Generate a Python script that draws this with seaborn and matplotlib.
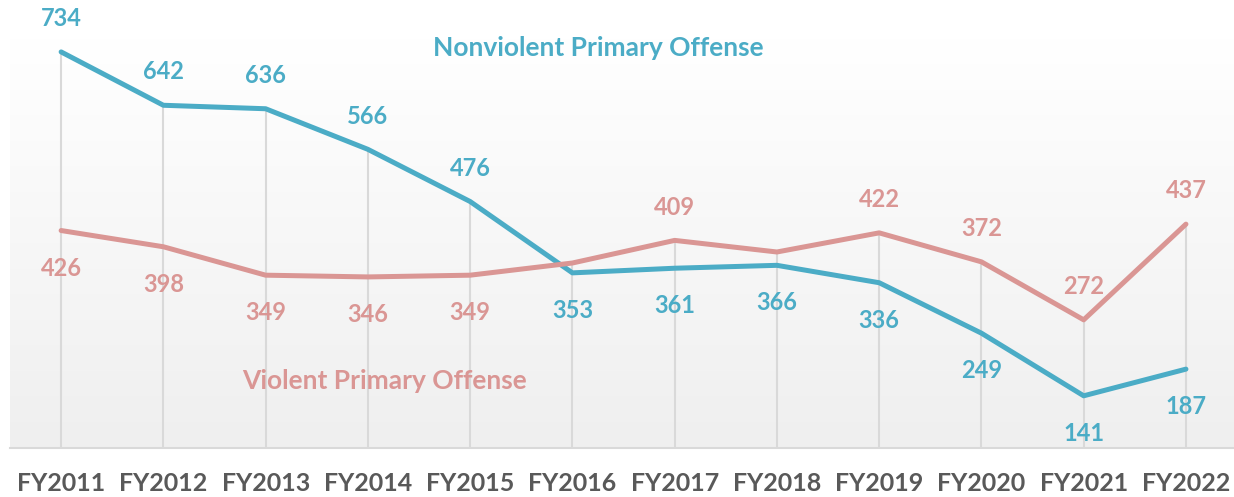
import numpy as np
import pandas as pd
import matplotlib
matplotlib.use("Agg")
import matplotlib.pyplot as plt
import seaborn as sns

# data
years = ["FY2011", "FY2012", "FY2013", "FY2014", "FY2015", "FY2016",
         "FY2017", "FY2018", "FY2019", "FY2020", "FY2021", "FY2022"]
nonviolent = [734, 642, 636, 566, 476, 353, 361, 366, 336, 249, 141, 187]
violent = [426, 398, 349, 346, 349, 370, 409, 389, 422, 372, 272, 437]
# which values carry a data label in the original
violent_labeled = [True, True, True, True, True, False, True, False, True, True, True, True]

teal = "#4BACC6"
pink = "#DA9694"
grid_gray = "#D9D9D9"

sns.set_style("white")
plt.rcParams["font.family"] = ["Lato", "DejaVu Sans"]

df = pd.DataFrame({
    "x": list(range(len(years))) * 2,
    "value": nonviolent + violent,
    "series": ["Nonviolent Primary Offense"] * len(years) + ["Violent Primary Offense"] * len(years),
})

fig = plt.figure(figsize=(12.34, 4.97), dpi=100)
ax = fig.add_axes([10 / 1234, 49 / 497, 1 - 10 / 1234, (448 - 38) / 497])

ymin, ymax = 51, 758
ax.set_xlim(-0.5, 11.47)
ax.set_ylim(ymin, ymax)

# gradient plot-area background (white at top, light gray at bottom)
grad = np.linspace(0, 1, 256).reshape(-1, 1)
ax.imshow(grad, extent=[-0.5, 11.47, ymin, ymax], aspect="auto", origin="upper",
          cmap=matplotlib.colors.LinearSegmentedColormap.from_list("bg", ["#FFFFFF", "#EFEFEF"]),
          zorder=0)

# drop lines
tops = np.maximum(nonviolent, violent)
ax.vlines(range(len(years)), ymin, tops, color=grid_gray, lw=1.5, zorder=1)

sns.lineplot(data=df, x="x", y="value", hue="series", palette=[teal, pink],
             lw=3.6, legend=False, ax=ax, zorder=3)

# data labels: first five years nonviolent above / violent below, then swapped
for i in range(len(years)):
    above = i < 5
    ax.annotate(str(nonviolent[i]), (i, nonviolent[i]), xytext=(0, 24 if above else -27),
                textcoords="offset points", ha="center", va="center",
                color=teal, fontsize=17, fontweight="bold", zorder=4)
    if violent_labeled[i]:
        ax.annotate(str(violent[i]), (i, violent[i]), xytext=(0, -27 if above else 24),
                    textcoords="offset points", ha="center", va="center",
                    color=pink, fontsize=17, fontweight="bold", zorder=4)

# series names
fig.text(598 / 1234, 1 - 48 / 497, "Nonviolent Primary Offense", ha="center", va="center",
         color=teal, fontsize=19, fontweight="bold")
fig.text(385 / 1234, 1 - 381 / 497, "Violent Primary Offense", ha="center", va="center",
         color=pink, fontsize=19, fontweight="bold")

ax.set_xticks(range(len(years)))
ax.set_xticklabels(years, fontsize=18, fontweight="bold", color="#595959")
ax.tick_params(axis="x", length=0, pad=17)
ax.set_yticks([])
ax.set_xlabel("")
ax.set_ylabel("")
for side in ["top", "left", "right"]:
    ax.spines[side].set_visible(False)
ax.spines["bottom"].set_color(grid_gray)
ax.spines["bottom"].set_linewidth(1.5)

fig.savefig("out.png", dpi=100)
